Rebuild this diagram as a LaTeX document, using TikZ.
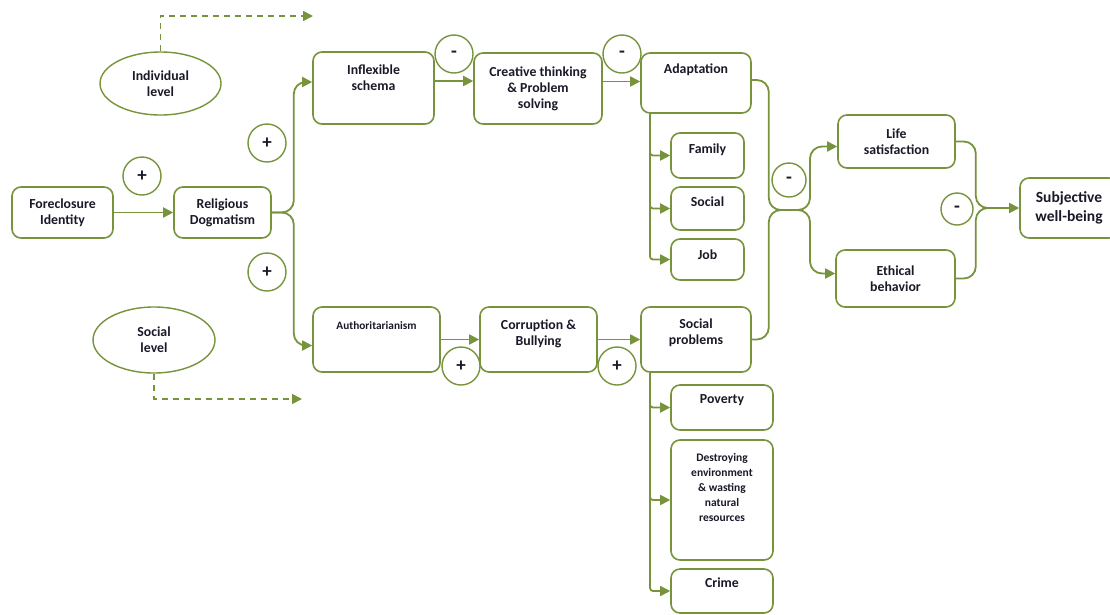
\documentclass[tikz,border=0pt]{standalone}
\usepackage{fontspec}
\setmainfont{Carlito}
\usetikzlibrary{arrows.meta, shapes.geometric}

\definecolor{olive}{RGB}{119,147,60}
\definecolor{ink}{RGB}{25,25,40}

\begin{document}
\begin{tikzpicture}[x=1pt, y=-1pt, line width=1.8pt,
     every node/.style = {text=ink, font=\bfseries\fontsize{13.8}{16}\selectfont, align=center},
     box/.style 2 args = {draw=olive, line width=1.6pt, rounded corners=9pt, inner sep=0pt,
         minimum width=#1, minimum height=#2},
     toptext/.style 2 args = {label={[anchor=north, yshift=#1]north:{#2}}},
     smalltop/.style n args = {3}{label={[anchor=north, yshift=#1,
         font=\bfseries\fontsize{#2}{15}\selectfont]north:{#3}}},
     level/.style = {ellipse, draw=olive, line width=1.4pt, inner sep=0pt},
     sign/.style = {circle, draw=olive, fill=white, line width=1.4pt,
         minimum size=#1, inner sep=0pt, font=\bfseries\fontsize{19}{19}\selectfont},
     sign/.default = 38pt,
     arr/.style = {draw=olive, -{Triangle[length=10pt, width=10pt]}},
     link/.style = {draw=olive},
     dashlink/.style = {arr, dash pattern=on 6pt off 5pt}]
    \useasboundingbox (0,0) rectangle (1110,614);
    \fill[white] (0,0) rectangle (1110,614);

    % left side
    \node [box={101}{51}] (fi) at (62.5,212.5) {Foreclosure\\Identity};
    \node [box={97}{51}] (rd) at (222.5,212.5) {Religious\\Dogmatism};
    \node [level, minimum width=121, minimum height=63] (il) at (160.5,83.5) {Individual\\level};
    \node [level, minimum width=122, minimum height=66] (sl) at (154,340) {Social\\level};

    % individual branch
    \node [box={121}{72}, toptext={-9}{Inflexible\\schema}] (is) at (373.5,88) {};
    \node [box={128}{71}] (ct) at (538,88.5) {Creative thinking\\\& Problem\\solving};
    \node [box={110}{60}, toptext={-7}{Adaptation}] (ad) at (696,83) {};
    \node [box={73}{45}, toptext={-7}{Family}] (fam) at (707.5,155.5) {};
    \node [box={73}{43}, toptext={-6}{Social}] (soc) at (707.5,208.5) {};
    \node [box={73}{41}, toptext={-7}{Job}] (job) at (707.5,259.5) {};

    % social branch
    \node [box={127}{65}, smalltop={-11}{11.3}{Authoritarianism}] (au) at (376.5,339.5) {};
    \node [box={117}{65}, toptext={-9}{Corruption \&\\Bullying}] (cb) at (538.5,339.5) {};
    \node [box={110}{65}, toptext={-8}{Social\\problems}] (sp) at (696,339.5) {};
    \node [box={102}{45}, toptext={-6}{Poverty}] (pov) at (722,407.5) {};
    \node [box={102}{120},
        smalltop={-10}{11.5}{Destroying\\environment\\\& wasting\\natural\\resources}] (den) at (722,500) {};
    \node [box={102}{44}, toptext={-5}{Crime}] (cri) at (722,591) {};

    % outcomes
    \node [box={117}{53}] (ls) at (896.5,141.5) {Life\\satisfaction};
    \node [box={119}{57}] (eb) at (895.5,278.5) {Ethical\\behavior};
    \node [box={98}{60}, font=\bfseries\fontsize{15.5}{19}\selectfont] (sw) at (1069,208) {Subjective\\well-being};

    % connectors
    \coordinate (indend) at (313,16);
    \coordinate (socend) at (302,399);
    \draw[dashlink] (il.north) |- (indend);
    \draw[dashlink] (sl.south) |- (socend);
    \draw[arr] (fi) -- (rd);
    \draw[arr, rounded corners=12pt] (rd.east) -- ++(22,0) |- ([yshift=6]is.west);
    \draw[arr, rounded corners=12pt] (rd.east) -- ++(22,0) |- ([yshift=-6]au.west);
    \draw[arr] ([yshift=7]is.east) -- ([yshift=7]is.east -| ct.west);
    \draw[arr] ([yshift=7]ct.east) -- ([yshift=7]ct.east -| ad.west);
    \draw[arr] (au.east) -- (cb.west);
    \draw[arr] (cb) -- (sp);

    \coordinate (adfoot) at ([xshift=-46]ad.south);
    \coordinate (spfoot) at ([xshift=-46]sp.south);
    \foreach \n in {fam,soc,job}
        \draw[arr, rounded corners=3pt] (adfoot) |- (\n.west);
    \foreach \n in {pov,den,cri}
        \draw[arr, rounded corners=3pt] (spfoot) |- (\n.west);

    \coordinate (mid) at (790,210);
    \coordinate (join) at (990,208);
    \draw[link, rounded corners=12pt] ([yshift=3]ad.east) -- ++(17,0) |- (mid);
    \draw[link, rounded corners=12pt] (sp.east) -- ++(17,0) |- (mid);
    \draw[arr, rounded corners=12pt] (mid) -- ++(20,0) |- ([yshift=-5]ls.west);
    \draw[arr, rounded corners=12pt] (mid) -- ++(20,0) |- ([yshift=5]eb.west);
    \draw[link, rounded corners=12pt] (ls.east) -- ++(20,0) |- (join);
    \draw[link, rounded corners=12pt] (eb.east) -- ++(20,0) |- (join);
    \draw[arr] (join) -- (sw.west);

    % signs
    \node [sign] (s1) at (142,176) {+};
    \node [sign] (s2) at (267,143) {+};
    \node [sign] (s3) at (267,272) {+};
    \node [sign] (s4) at (454,54) {-};
    \node [sign] (s5) at (622,54) {-};
    \node [sign] (s6) at (461,366) {+};
    \node [sign] (s7) at (617,366) {+};
    \node [sign=34pt] (s8) at (789,180) {-};
    \node [sign=32pt] (s9) at (957,209) {-};
\end{tikzpicture}
\end{document}
